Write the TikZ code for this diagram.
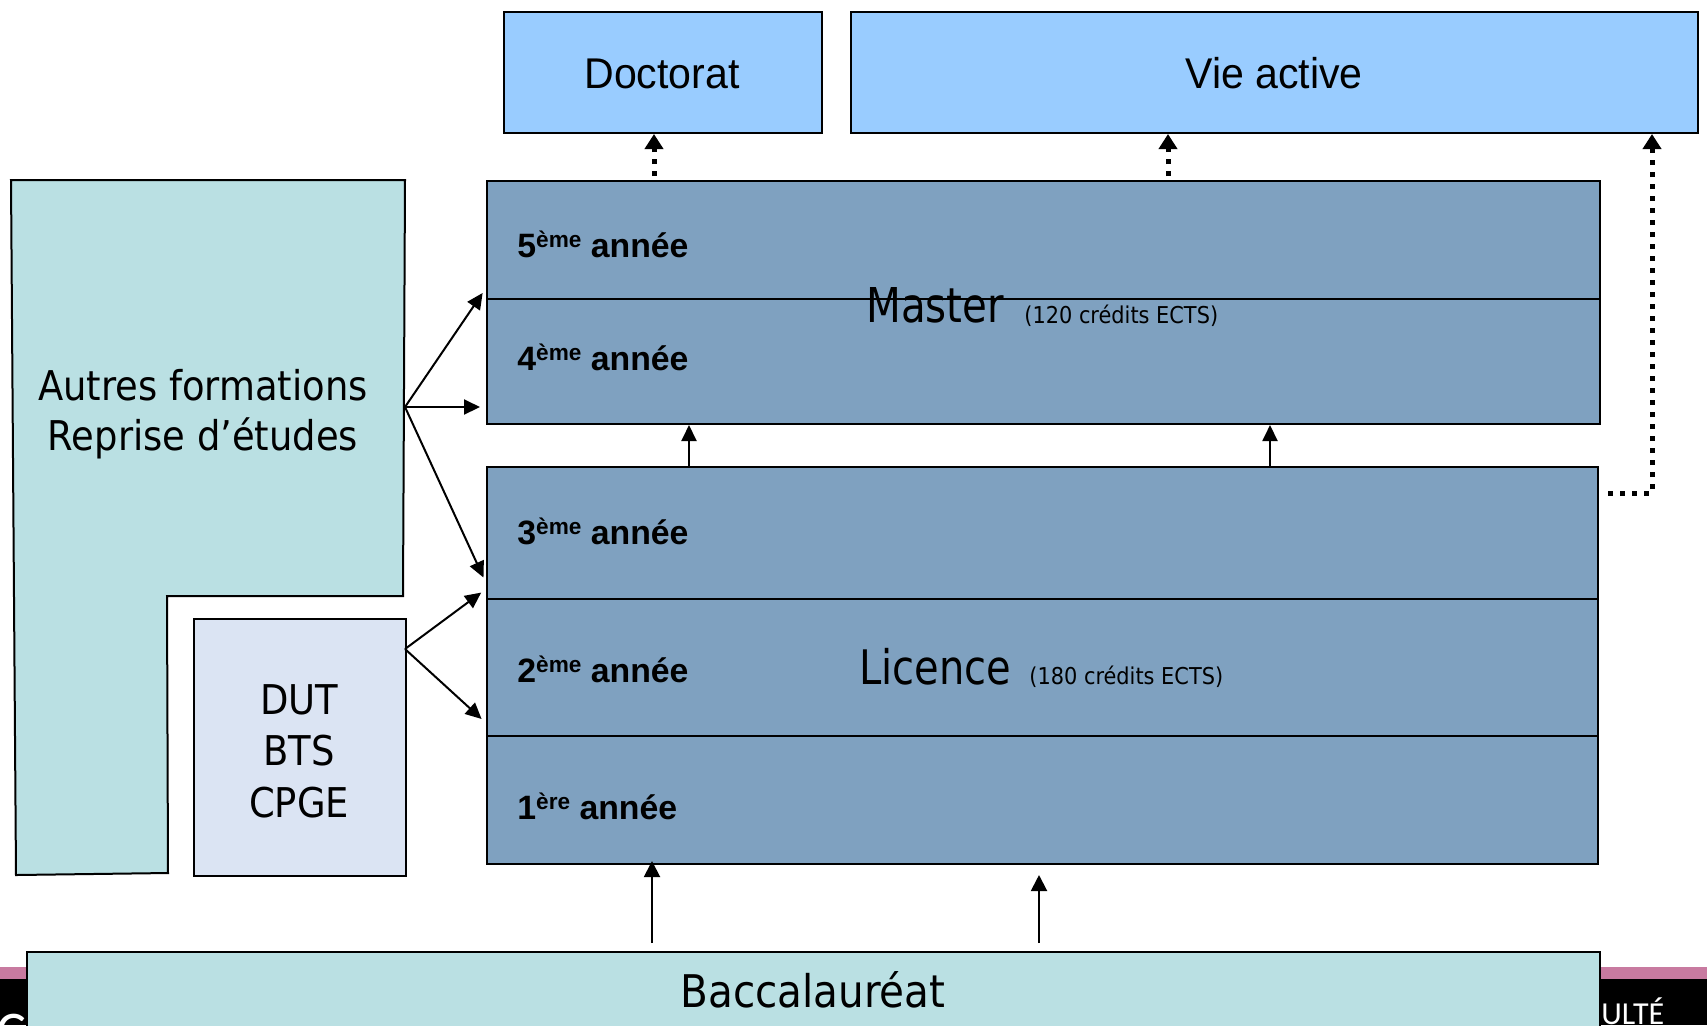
\documentclass[tikz,border=0pt]{standalone}
\usepackage{fontspec}
\usetikzlibrary{arrows.meta}
\newfontfamily\fsans[FakeStretch=0.9]{DejaVu Sans}
\newfontfamily\fsansn[FakeStretch=0.84]{DejaVu Sans}
\newfontfamily\farial[FakeStretch=0.955]{Liberation Sans}
\newfontfamily\fyear{Liberation Sans}
\newfontfamily\flogo{Carlito}
\definecolor{topblue}{RGB}{153,204,255}
\definecolor{steel}{RGB}{127,161,192}
\definecolor{aqua}{RGB}{186,224,227}
\definecolor{pale}{RGB}{219,228,243}
\definecolor{rose}{RGB}{200,122,160}
% year label: number, superscript, "année"
\newcommand\yearlbl[2]{{\fyear\bfseries\fontsize{16.9}{19}\selectfont #1\raisebox{4.7pt}{\fontsize{11.3}{12}\selectfont #2}\ année}}
\begin{document}
\begin{tikzpicture}[x=0.5pt,y=-0.5pt,
  box/.style={draw=black,line width=1pt,inner sep=0pt,anchor=north west},
  lbl/.style={inner sep=0pt,anchor=base},
  lblw/.style={inner sep=0pt,anchor=base west},
  link/.style={line width=1pt,-{Triangle[length=8pt,width=7.5pt]}},
  rise/.style={line width=1pt,-{Triangle[length=8pt,width=8pt]}},
  exitline/.style={line width=2.5pt,dash pattern=on 2.5pt off 3.5pt,-{Triangle[length=7.5pt,width=9pt]}},
]
\useasboundingbox (0,0) rectangle (1707,1025);
\clip (0,0) rectangle (1707,1025);

% footer band
\fill[rose] (0,967) rectangle (1707,979);
\fill[black] (0,979) rectangle (1707,1025);
\node[lblw,text=white,font=\flogo\fontsize{16}{18}\selectfont] (logor) at (1601,1024) {ULTÉ};
\node[lblw,text=white,font=\flogo\fontsize{28}{30}\selectfont] (logol) at (-4,1050) {C};

% top destinations
\node[box,fill=topblue,minimum width=159pt,minimum height=60.5pt] (doct) at (503,11) {};
\node[box,fill=topblue,minimum width=423.5pt,minimum height=60.5pt] (vie) at (850,11) {};
\node[lbl,font=\farial\fontsize{21.5}{24}\selectfont] (doctxt) at (662,88) {Doctorat};
\node[lbl,font=\farial\fontsize{21.5}{24}\selectfont] (vietxt) at (1274,88) {Vie active};

% master block
\node[box,fill=steel,minimum width=556.5pt,minimum height=121.5pt] (mas) at (486,180) {};
\coordinate (dm) at (0,299);
\draw[line width=1pt] (mas.west |- dm) -- (mas.east |- dm);

% licence block
\node[box,fill=steel,minimum width=555.5pt,minimum height=198.5pt] (lic) at (486,466) {};
\coordinate (dl1) at (0,599);
\coordinate (dl2) at (0,736);
\draw[line width=1pt] (lic.west |- dl1) -- (lic.east |- dl1);
\draw[line width=1pt] (lic.west |- dl2) -- (lic.east |- dl2);

% year labels
\node[lblw] (y5) at (517,257) {\yearlbl{5}{ème}};
\node[lblw] (y4) at (517,370) {\yearlbl{4}{ème}};
\node[lblw] (y3) at (517,544) {\yearlbl{3}{ème}};
\node[lblw] (y2) at (517,682) {\yearlbl{2}{ème}};
\node[lblw] (y1) at (517,819) {\yearlbl{1}{ère}};

% block titles
\node[lblw,font=\fsansn\fontsize{24}{26}\selectfont] (mastxt) at (866,322) {Master};
\node[lblw,font=\fsans\fontsize{11.6}{13}\selectfont] (massub) at (1024,323) {(120 crédits ECTS)};
\node[lblw,font=\fsansn\fontsize{23.8}{26}\selectfont] (lictxt) at (859,684) {Licence};
\node[lblw,font=\fsans\fontsize{11.6}{13}\selectfont] (licsub) at (1029,684) {(180 crédits ECTS)};

% other entries
\path[draw=black,line width=1pt,fill=aqua]
  (11,180) -- (405,180) -- (403,596) -- (167,596) -- (168,873) -- (16,875) -- cycle;
\node[lbl,font=\fsans\fontsize{20.5}{25}\selectfont] (aut1) at (203,400) {Autres formations};
\node[lbl,font=\fsans\fontsize{20.5}{25}\selectfont] (aut2) at (203,450) {Reprise d’études};
\coordinate (ao) at (405,407);

\node[box,fill=pale,minimum width=106pt,minimum height=128.5pt] (dut) at (193,618) {};
\node[lbl,font=\fsans\fontsize{20.5}{25}\selectfont] (dut1) at (299,714) {DUT};
\node[lbl,font=\fsans\fontsize{20.5}{25}\selectfont] (dut2) at (299,765) {BTS};
\node[lbl,font=\fsans\fontsize{20.5}{25}\selectfont] (dut3) at (299,817) {CPGE};
\coordinate (do) at (405,649);

% baccalaureat
\node[box,fill=aqua,minimum width=786.5pt,minimum height=50pt] (bac) at (26,951) {};
\node[lblw,font=\fsans\fontsize{22.5}{25}\selectfont] (bactxt) at (680,1007) {Baccalauréat};

% entry arrows
\coordinate (ya) at (0,288);
\coordinate (yb) at (0,407);
\coordinate (yc) at (0,583);
\coordinate (yd) at (0,589);
\coordinate (ye) at (0,723);
\draw[link,shorten >=3pt] (ao) -- (mas.west |- ya);
\draw[link,shorten >=3pt] (ao) -- (mas.west |- yb);
\draw[link,shorten >=3pt] (ao) -- (lic.west |- yc);
\draw[link,shorten >=3pt] (do) -- (lic.west |- yd);
\draw[link,shorten >=3pt] (do) -- (lic.west |- ye);

% bac to licence
\coordinate (xa) at (652,0);
\coordinate (xb) at (1039,0);
\draw[rise,shorten <=4pt,shorten >=-2pt] (bac.north -| xa) -- (lic.south -| xa);
\draw[rise,shorten <=4pt,shorten >=5pt] (bac.north -| xb) -- (lic.south -| xb);

% licence to master
\coordinate (xc) at (689,0);
\coordinate (xd) at (1270,0);
\draw[link] (lic.north -| xc) -- (mas.south -| xc);
\draw[link] (lic.north -| xd) -- (mas.south -| xd);

% exits
\coordinate (xe) at (654,0);
\coordinate (xf) at (1168,0);
\coordinate (xg) at (1652,0);
\coordinate (ls) at (1608,493);
\draw[exitline,shorten <=2pt] (mas.north -| xe) -- (doct.south -| xe);
\draw[exitline,shorten <=2pt] (mas.north -| xf) -- (vie.south -| xf);
\draw[exitline] (ls) -- (ls -| xg) -- (vie.south -| xg);
\end{tikzpicture}
\end{document}
